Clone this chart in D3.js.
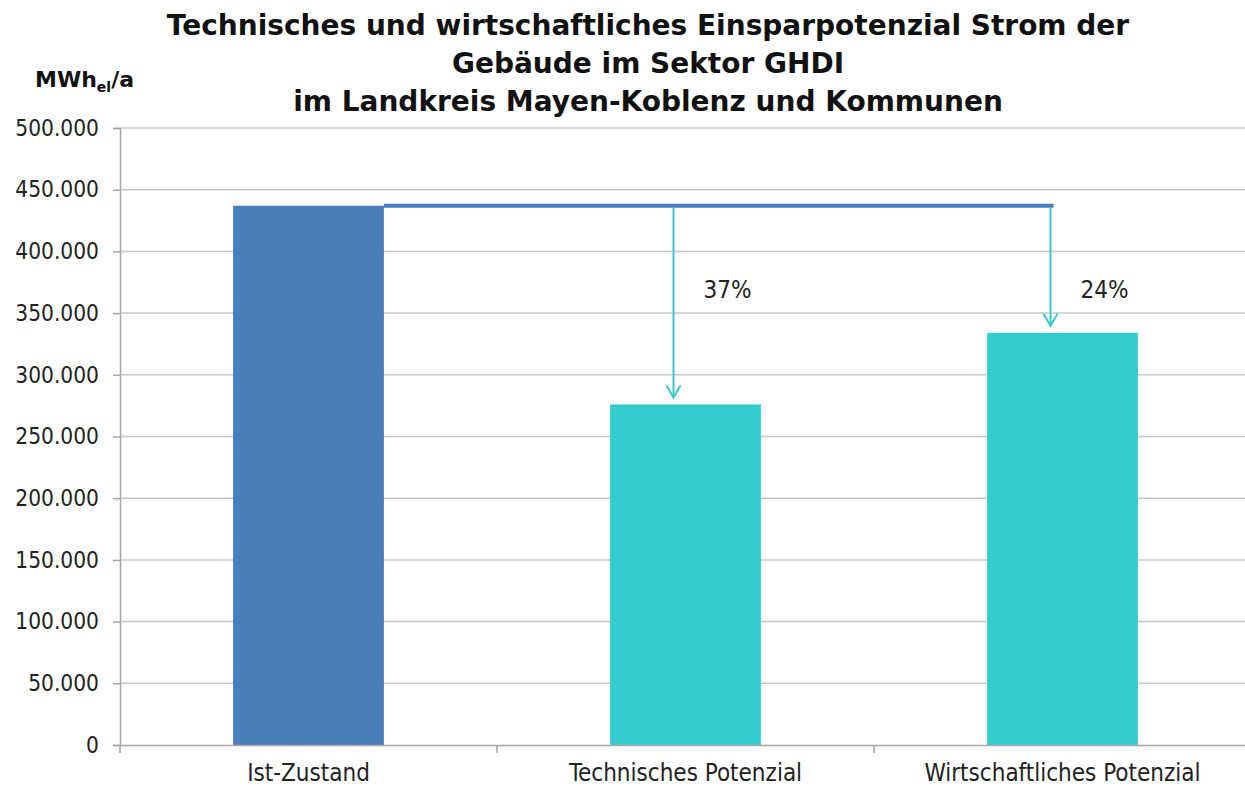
<!DOCTYPE html>
<html>
<head>
<meta charset="utf-8">
<script src="https://cdn.jsdelivr.net/npm/d3@7"></script>
<style>
  html, body { margin: 0; padding: 0; background: #fff; }
  svg { display: block; }
</style>
</head>
<body>
<svg id="chart" width="1245" height="789"></svg>
<script>
// Stromverbrauch und Einsparpotenziale (MWh_el/a)
const categories = ["Ist-Zustand", "Technisches Potenzial", "Wirtschaftliches Potenzial"];
const values = [437000, 276000, 334000];
const yTicks = [0, 50000, 100000, 150000, 200000, 250000, 300000, 350000, 400000, 450000, 500000];
const titleLines = [
  "Technisches und wirtschaftliches Einsparpotenzial Strom der",
  "Gebäude im Sektor GHDI",
  "im Landkreis Mayen-Koblenz und Kommunen"
];

const FONT = "'DejaVu Sans Condensed', 'DejaVu Sans', Verdana, sans-serif";
const FONT_BOLD = "'DejaVu Sans', Verdana, sans-serif";
const svg = d3.select("#chart");
const margin = { left: 120, right: -6, top: 128, bottom: 44 };
const W = 1245, H = 789;

const x = d3.scaleBand().domain(categories).range([margin.left, W - margin.right]).padding(0);
const y = d3.scaleLinear().domain([0, 500000]).range([H - margin.bottom, margin.top]);
const barW = x.bandwidth() * 0.4;
const fmt = v => d3.format(",")(v).replace(/,/g, ".");

// Gitternetz
svg.append("g")
  .selectAll("line")
  .data(yTicks.filter(d => d > 0))
  .join("line")
  .attr("x1", margin.left).attr("x2", W)
  .attr("y1", d => y(d)).attr("y2", d => y(d))
  .attr("stroke", "#c8c8c8").attr("stroke-width", 1.5);

// Y-Achse
const yAxis = svg.append("g")
  .attr("transform", `translate(${margin.left},0)`)
  .call(d3.axisLeft(y).tickValues(yTicks).tickFormat(fmt).tickSize(7).tickPadding(14));
yAxis.select(".domain").attr("stroke", "#a6a6a6").attr("stroke-width", 1.5);
yAxis.selectAll(".tick line").attr("stroke", "#a6a6a6").attr("stroke-width", 1.5);
yAxis.selectAll(".tick text")
  .attr("font-family", FONT).attr("font-size", 22.5).attr("fill", "#222");

// Balken
const colors = ["#4a7ebb", "#33cccc", "#33cccc"];
svg.append("g")
  .selectAll("rect")
  .data(values)
  .join("rect")
  .attr("x", (d, i) => x(categories[i]) + (x.bandwidth() - barW) / 2)
  .attr("width", barW)
  .attr("y", d => y(d))
  .attr("height", d => y(0) - y(d))
  .attr("fill", (d, i) => colors[i]);

// X-Achse
const xAxis = svg.append("g")
  .attr("transform", `translate(0,${y(0)})`)
  .call(d3.axisBottom(x).tickSize(0).tickPadding(19));
xAxis.select(".domain").attr("stroke", "#a6a6a6").attr("stroke-width", 1.5);
xAxis.selectAll(".tick text")
  .attr("font-family", FONT).attr("font-size", 24).attr("fill", "#222");
svg.append("g")
  .selectAll("line")
  .data(categories)
  .join("line")
  .attr("x1", d => x(d)).attr("x2", d => x(d))
  .attr("y1", y(0)).attr("y2", y(0) + 8)
  .attr("stroke", "#a6a6a6").attr("stroke-width", 1.5);

// Referenzlinie auf Höhe des Ist-Zustands
const base = values[0];
const arrowX = i => x(categories[i]) + x.bandwidth() / 2 - 12;
svg.append("line")
  .attr("x1", x(categories[0]) + (x.bandwidth() + barW) / 2)
  .attr("x2", arrowX(2) + 3)
  .attr("y1", y(base)).attr("y2", y(base))
  .attr("stroke", "#4a7ebb").attr("stroke-width", 4);

// Pfeile und prozentuale Einsparung
const arrowColor = "#3cc8cc";
[1, 2].forEach(i => {
  const ax = arrowX(i);
  const tip = y(values[i]) - 7;
  const g = svg.append("g").attr("stroke", arrowColor).attr("stroke-width", 2).attr("fill", "none");
  g.append("line").attr("x1", ax).attr("x2", ax).attr("y1", y(base) + 2).attr("y2", tip);
  g.append("path").attr("d", `M${ax - 7},${tip - 12}L${ax},${tip}L${ax + 7},${tip - 12}`);
  const pct = Math.round((1 - values[i] / base) * 100);
  svg.append("text")
    .attr("x", ax + 30).attr("y", y(base) + 92)
    .attr("font-family", FONT).attr("font-size", 24).attr("fill", "#222")
    .text(pct + "%");
});

// Titel
svg.append("g")
  .selectAll("text")
  .data(titleLines)
  .join("text")
  .attr("x", 648).attr("y", (d, i) => 35 + i * 38)
  .attr("text-anchor", "middle")
  .attr("font-family", FONT_BOLD).attr("font-weight", "bold").attr("font-size", 28).attr("fill", "#111")
  .text(d => d);

// Einheit
const unit = svg.append("text")
  .attr("x", 35).attr("y", 87)
  .attr("font-family", FONT_BOLD).attr("font-weight", "bold").attr("font-size", 22).attr("fill", "#111");
unit.append("tspan").text("MWh");
unit.append("tspan").attr("font-size", 14).attr("dy", 5).text("el");
unit.append("tspan").attr("dy", -5).text("/a");
</script>
</body>
</html>
